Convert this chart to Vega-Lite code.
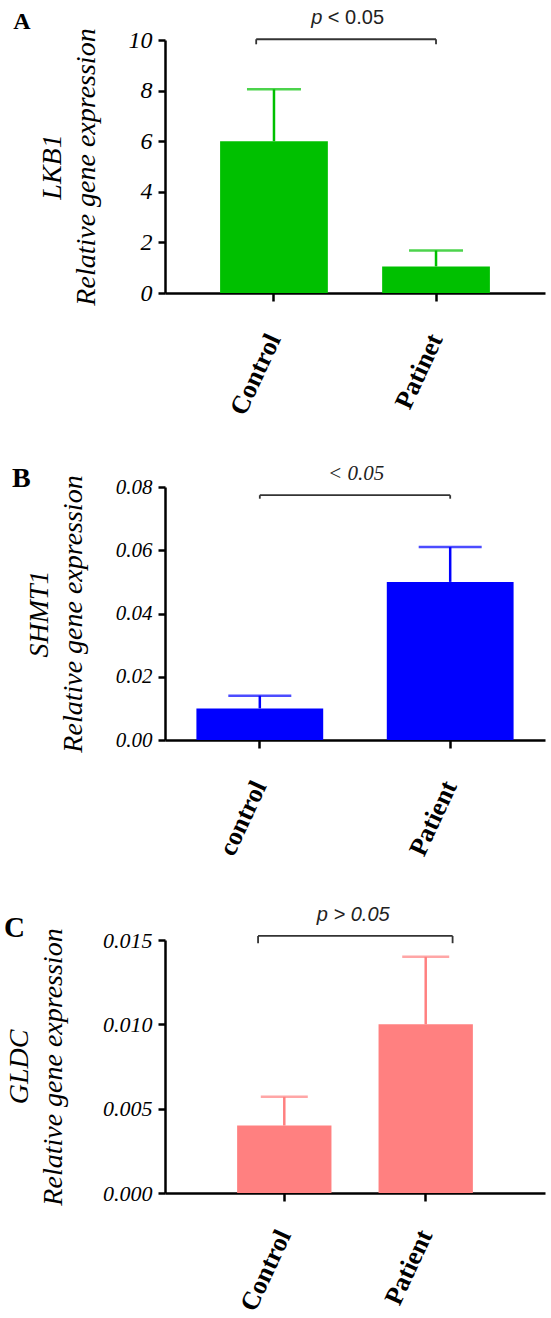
{
  "$schema": "https://vega.github.io/schema/vega-lite/v6.json",
  "background": "white",
  "padding": {"left": 4, "top": 8, "right": 2, "bottom": 0},
  "spacing": 44,
  "config": {
    "view": {"stroke": null},
    "axis": {"grid": false, "domainColor": "black", "tickColor": "black", "labelColor": "black", "titleColor": "black", "domainWidth": 2.5, "tickWidth": 2.5}
  },
  "vconcat": [
    {
      "width": 380, "height": 253,
      "layer": [
        {
          "data": {"values": [{"group": "Control", "mean": 6.0, "upper": 8.05}, {"group": "Patinet", "mean": 1.05, "upper": 1.68}]},
          "layer": [
            {"mark": {"type": "bar", "color": "#00C000"},
             "encoding": {
               "x": {"field": "group", "type": "nominal", "sort": null, "scale": {"domain": ["Control", "Patinet"], "paddingInner": 0.335, "paddingOuter": 0.34},
                     "axis": {"title": null, "labelAngle": -65, "labelFont": "Liberation Serif", "labelFontWeight": "bold", "labelFontSize": 26, "tickSize": 8, "labelPadding": 34}},
               "y": {"field": "mean", "type": "quantitative", "scale": {"domain": [0, 10], "nice": false},
                     "axis": {"title": ["LKB1", "Relative gene expression"], "values": [0, 2, 4, 6, 8, 10], "labelFont": "Liberation Serif", "labelFontStyle": "italic", "labelFontSize": 24, "tickSize": 7, "labelPadding": 6,
                              "titleFont": "Liberation Serif", "titleFontStyle": "italic", "titleFontWeight": "normal", "titleFontSize": 28, "titleLineHeight": 34, "titlePadding": 28}}
             }},
            {"mark": {"type": "rule", "color": "#00C000", "strokeWidth": 2.5},
             "encoding": {"x": {"field": "group", "type": "nominal"}, "y": {"field": "mean", "type": "quantitative"}, "y2": {"field": "upper"}}},
            {"mark": {"type": "tick", "color": "#00C000", "thickness": 2.5, "size": 54},
             "encoding": {"x": {"field": "group", "type": "nominal"}, "y": {"field": "upper", "type": "quantitative"}}}
          ]
        },
        {
          "data": {"values": [{"from": "Control", "to": "Patinet", "letter": "A", "p": "p", "rest": "< 0.05"}]},
          "layer": [
            {"mark": {"type": "rule", "color": "#333333", "strokeWidth": 1.8},
             "encoding": {"x": {"field": "from", "type": "nominal", "bandPosition": 0.335}, "x2": {"field": "to", "bandPosition": 0.5}, "y": {"datum": 10.03, "type": "quantitative"}}},
            {"mark": {"type": "rule", "color": "#333333", "strokeWidth": 1.8},
             "encoding": {"x": {"field": "from", "type": "nominal", "bandPosition": 0.335}, "y": {"datum": 10.03, "type": "quantitative"}, "y2": {"datum": 9.83}}},
            {"mark": {"type": "rule", "color": "#333333", "strokeWidth": 1.8},
             "encoding": {"x": {"field": "to", "type": "nominal", "bandPosition": 0.5}, "y": {"datum": 10.03, "type": "quantitative"}, "y2": {"datum": 9.83}}},
            {"mark": {"type": "text", "font": "Liberation Sans", "fontSize": 20, "fontStyle": "italic", "align": "right", "baseline": "alphabetic", "color": "#222222"},
             "encoding": {"x": {"field": "from", "type": "nominal", "bandPosition": 0.95}, "y": {"datum": 10.63, "type": "quantitative"}, "text": {"field": "p"}}},
            {"mark": {"type": "text", "font": "Liberation Sans", "fontSize": 20, "align": "left", "baseline": "alphabetic", "color": "#222222"},
             "encoding": {"x": {"field": "from", "type": "nominal", "bandPosition": 1.0}, "y": {"datum": 10.63, "type": "quantitative"}, "text": {"field": "rest"}}},
            {"mark": {"type": "text", "font": "Liberation Serif", "fontSize": 24, "fontWeight": "bold", "align": "center", "baseline": "alphabetic", "color": "black"},
             "encoding": {"x": {"field": "from", "type": "nominal", "bandPosition": -1.84}, "y": {"datum": 10.45, "type": "quantitative"}, "text": {"field": "letter"}}}
          ]
        }
      ]
    },
    {
      "width": 380, "height": 253,
      "layer": [
        {
          "data": {"values": [{"group": "control", "mean": 0.010, "upper": 0.014}, {"group": "Patient", "mean": 0.050, "upper": 0.061}]},
          "layer": [
            {"mark": {"type": "bar", "color": "#0000FF"},
             "encoding": {
               "x": {"field": "group", "type": "nominal", "sort": null, "scale": {"domain": ["control", "Patient"], "paddingInner": 0.334, "paddingOuter": 0.165},
                     "axis": {"title": null, "labelAngle": -65, "labelFont": "Liberation Serif", "labelFontWeight": "bold", "labelFontSize": 26, "tickSize": 8, "labelPadding": 34}},
               "y": {"field": "mean", "type": "quantitative", "scale": {"domain": [0, 0.08], "nice": false},
                     "axis": {"title": ["SHMT1", "Relative gene expression"], "values": [0, 0.02, 0.04, 0.06, 0.08], "format": ".2f", "labelFont": "Liberation Serif", "labelFontStyle": "italic", "labelFontSize": 21, "tickSize": 7, "labelPadding": 6,
                              "titleFont": "Liberation Serif", "titleFontStyle": "italic", "titleFontWeight": "normal", "titleFontSize": 28, "titleLineHeight": 34, "titlePadding": 28}}
             }},
            {"mark": {"type": "rule", "color": "#0000FF", "strokeWidth": 2.5},
             "encoding": {"x": {"field": "group", "type": "nominal"}, "y": {"field": "mean", "type": "quantitative"}, "y2": {"field": "upper"}}},
            {"mark": {"type": "tick", "color": "#0000FF", "thickness": 2.5, "size": 63},
             "encoding": {"x": {"field": "group", "type": "nominal"}, "y": {"field": "upper", "type": "quantitative"}}}
          ]
        },
        {
          "data": {"values": [{"from": "control", "to": "Patient", "letter": "B", "label": "< 0.05"}]},
          "layer": [
            {"mark": {"type": "rule", "color": "#333333", "strokeWidth": 1.8},
             "encoding": {"x": {"field": "from", "type": "nominal", "bandPosition": 0.5}, "x2": {"field": "to", "bandPosition": 0.5}, "y": {"datum": 0.0774, "type": "quantitative"}}},
            {"mark": {"type": "rule", "color": "#333333", "strokeWidth": 1.8},
             "encoding": {"x": {"field": "from", "type": "nominal", "bandPosition": 0.5}, "y": {"datum": 0.0774, "type": "quantitative"}, "y2": {"datum": 0.0763}}},
            {"mark": {"type": "rule", "color": "#333333", "strokeWidth": 1.8},
             "encoding": {"x": {"field": "to", "type": "nominal", "bandPosition": 0.5}, "y": {"datum": 0.0774, "type": "quantitative"}, "y2": {"datum": 0.0763}}},
            {"mark": {"type": "text", "font": "Liberation Serif", "fontSize": 21, "fontStyle": "italic", "align": "center", "baseline": "alphabetic", "color": "#222222"},
             "encoding": {"x": {"field": "from", "type": "nominal", "bandPosition": 1.26}, "y": {"datum": 0.0821, "type": "quantitative"}, "text": {"field": "label"}}},
            {"mark": {"type": "text", "font": "Liberation Serif", "fontSize": 28, "fontWeight": "bold", "align": "center", "baseline": "alphabetic", "color": "black"},
             "encoding": {"x": {"field": "from", "type": "nominal", "bandPosition": -1.38}, "y": {"datum": 0.0799, "type": "quantitative"}, "text": {"field": "letter"}}}
          ]
        }
      ]
    },
    {
      "width": 380, "height": 253,
      "layer": [
        {
          "data": {"values": [{"group": "Control", "mean": 0.0040, "upper": 0.0057}, {"group": "Patient", "mean": 0.0100, "upper": 0.0140}]},
          "layer": [
            {"mark": {"type": "bar", "color": "#FF8080"},
             "encoding": {
               "x": {"field": "group", "type": "nominal", "sort": null, "scale": {"domain": ["Control", "Patient"], "paddingInner": 0.333, "paddingOuter": 0.51},
                     "axis": {"title": null, "labelAngle": -65, "labelFont": "Liberation Serif", "labelFontWeight": "bold", "labelFontSize": 26, "tickSize": 8, "labelPadding": 30}},
               "y": {"field": "mean", "type": "quantitative", "scale": {"domain": [0, 0.015], "nice": false},
                     "axis": {"title": ["GLDC", "Relative gene expression"], "values": [0, 0.005, 0.01, 0.015], "format": ".3f", "labelFont": "Liberation Serif", "labelFontStyle": "italic", "labelFontSize": 22, "tickSize": 7, "labelPadding": 6,
                              "titleFont": "Liberation Serif", "titleFontStyle": "italic", "titleFontWeight": "normal", "titleFontSize": 28, "titleLineHeight": 34, "titlePadding": 35}}
             }},
            {"mark": {"type": "rule", "color": "#FF8080", "strokeWidth": 2.5},
             "encoding": {"x": {"field": "group", "type": "nominal"}, "y": {"field": "mean", "type": "quantitative"}, "y2": {"field": "upper"}}},
            {"mark": {"type": "tick", "color": "#FF8080", "thickness": 2.5, "size": 47},
             "encoding": {"x": {"field": "group", "type": "nominal"}, "y": {"field": "upper", "type": "quantitative"}}}
          ]
        },
        {
          "data": {"values": [{"from": "Control", "to": "Patient", "letter": "C", "label": "p > 0.05"}]},
          "layer": [
            {"mark": {"type": "rule", "color": "#333333", "strokeWidth": 1.8},
             "encoding": {"x": {"field": "from", "type": "nominal", "bandPosition": 0.222}, "x2": {"field": "to", "bandPosition": 0.785}, "y": {"datum": 0.01524, "type": "quantitative"}}},
            {"mark": {"type": "rule", "color": "#333333", "strokeWidth": 1.8},
             "encoding": {"x": {"field": "from", "type": "nominal", "bandPosition": 0.222}, "y": {"datum": 0.01524, "type": "quantitative"}, "y2": {"datum": 0.01481}}},
            {"mark": {"type": "rule", "color": "#333333", "strokeWidth": 1.8},
             "encoding": {"x": {"field": "to", "type": "nominal", "bandPosition": 0.785}, "y": {"datum": 0.01524, "type": "quantitative"}, "y2": {"datum": 0.01481}}},
            {"mark": {"type": "text", "font": "Liberation Sans", "fontSize": 20, "fontStyle": "italic", "align": "center", "baseline": "alphabetic", "color": "#222222"},
             "encoding": {"x": {"field": "from", "type": "nominal", "bandPosition": 1.231}, "y": {"datum": 0.01613, "type": "quantitative"}, "text": {"field": "label"}}},
            {"mark": {"type": "text", "font": "Liberation Serif", "fontSize": 29, "fontWeight": "bold", "align": "center", "baseline": "alphabetic", "color": "black"},
             "encoding": {"x": {"field": "from", "type": "nominal", "bandPosition": -2.36}, "y": {"datum": 0.01515, "type": "quantitative"}, "text": {"field": "letter"}}}
          ]
        }
      ]
    }
  ]
}
